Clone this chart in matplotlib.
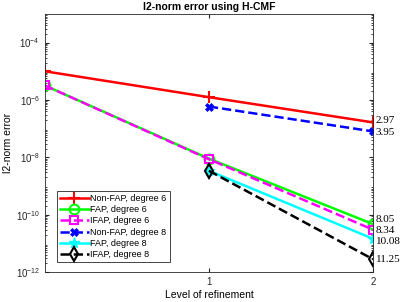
import matplotlib
matplotlib.use("Agg")
import numpy as np
import matplotlib.pyplot as plt
from matplotlib.ticker import LogLocator, NullFormatter

plt.rcParams['font.family'] = ['Liberation Sans', 'DejaVu Sans']

# ---- data ----
levels_all = [0, 1, 2]
levels_fine = [1, 2]

nonfap_d6 = [1.0e-5, 1.25e-6, 1.65e-7]
fap_d6 = [3.2e-6, 9.0e-9, 4.7e-11]
ifap_d6 = [3.2e-6, 8.6e-9, 3.0e-11]
nonfap_d8 = [5.9e-7, 8.0e-8]
fap_d8 = [3.4e-9, 1.45e-11]
ifap_d8 = [3.4e-9, 2.8e-12]

rates = ['2.97', '3.95', '8.05', '8.34', '10.08', '11.25']

fig = plt.figure(figsize=(4.15, 3.02), dpi=100)
ax = fig.add_axes([0.108, 0.099, 0.791, 0.855])

lw = 1.8
ax.plot(levels_all, nonfap_d6, '-', color='red', marker='+', ms=8, mew=1.5, lw=lw,
        label='Non-FAP, degree 6')
ax.plot(levels_all, fap_d6, '-', color='#00ff00', marker='o', ms=7, mew=1.5, mfc='none', lw=lw,
        label='FAP, degree 6')
ax.plot(levels_all, ifap_d6, '--', color='magenta', marker='s', ms=6, mew=1.5, mfc='none', lw=lw,
        label='IFAP, degree 6')
ax.plot(levels_fine, nonfap_d8, '--', color='blue', marker='X', ms=6, mew=0.5, lw=lw,
        label='Non-FAP, degree 8')
ax.plot(levels_fine, fap_d8, '-', color='cyan', marker='*', ms=8, mew=1, lw=lw,
        label='FAP, degree 8')
ax.plot(levels_fine, ifap_d8, '--', color='black', marker='d', ms=7, mew=1.5, mfc='none', lw=lw,
        label='IFAP, degree 8')

# convergence rates next to the last points (small vertical nudges to keep them apart)
last_vals = [nonfap_d6[-1], nonfap_d8[-1], fap_d6[-1], ifap_d6[-1], fap_d8[-1], ifap_d8[-1]]
nudges = [1.5, -1, 3, -0.5, -2, 0]
for r, v, dy in zip(rates, last_vals, nudges):
    ax.annotate(r, (2, v), xytext=(2, dy), textcoords='offset points',
                family='Liberation Serif', fontsize=8, va='center', ha='left',
                annotation_clip=False)

ax.set_yscale('log')
ax.set_xlim(0, 2)
ax.set_ylim(1e-12, 1e-3)
ax.set_xticks([1, 2])
ax.set_yticks([1e-12, 1e-10, 1e-8, 1e-6, 1e-4])
ax.yaxis.set_minor_locator(LogLocator(base=10, subs=np.arange(2, 10), numticks=20))
ax.yaxis.set_minor_formatter(NullFormatter())
ax.tick_params(which='both', direction='in', top=True, right=True, labelsize=7, colors='#262626')
ax.tick_params(which='major', length=3)
ax.tick_params(which='minor', length=1.5)
for s in ax.spines.values():
    s.set_color('#262626')
    s.set_linewidth(0.6)

ax.set_title('l2-norm error using H-CMF', fontsize=7.5, fontweight='bold', pad=3)
ax.set_xlabel('Level of refinement', fontsize=7.5, labelpad=2)
ax.set_ylabel('l2-norm error', fontsize=7.5, labelpad=2)

leg = ax.legend(loc='lower left', bbox_to_anchor=(0.022, 0.02), fontsize=6.5, handlelength=3.2,
                handletextpad=0.2, borderpad=0.35, labelspacing=0.25, fancybox=False,
                edgecolor='#262626', framealpha=1)
leg.get_frame().set_linewidth(0.6)

fig.savefig('out.png', dpi=100)
